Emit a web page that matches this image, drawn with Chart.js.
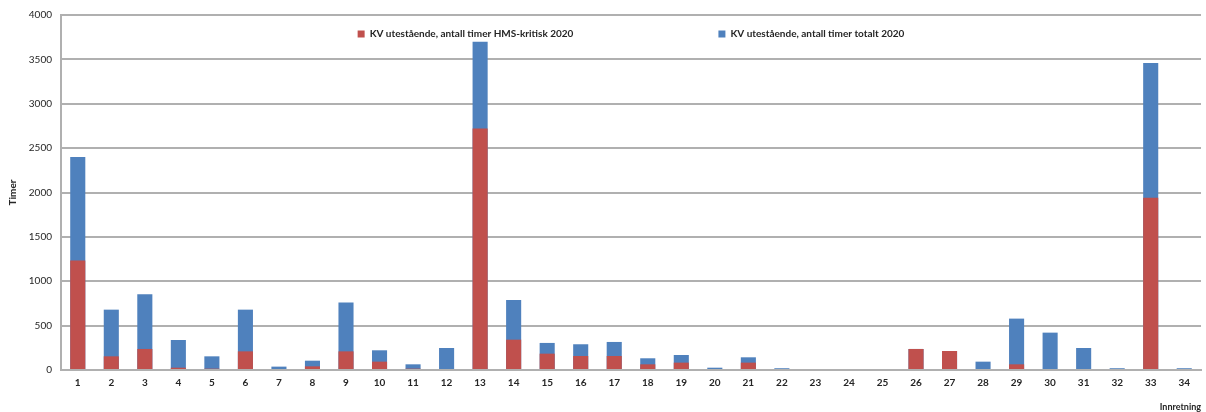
<!DOCTYPE html>
<html>
<head>
<meta charset="utf-8">
<title>KV utestående timer 2020</title>
<script src="https://cdn.jsdelivr.net/npm/chart.js@4/dist/chart.umd.min.js"></script>
<style>
  html, body { margin: 0; padding: 0; background: #ffffff; }
  #wrap { width: 1206px; height: 412px; }
</style>
</head>
<body>
<div id="wrap"><canvas id="chart" width="1206" height="412"></canvas></div>
<script>
// Innretning (facility) numbers along the x axis
const innretning = ['1','2','3','4','5','6','7','8','9','10','11','12','13','14','15','16','17',
                    '18','19','20','21','22','23','24','25','26','27','28','29','30','31','32','33','34'];

// Outstanding corrective maintenance hours, HMS-critical part
const hmsKritisk = [1235, 154, 237, 26, 15, 210, 0, 41, 210, 94, 15, 0, 2720, 342, 184, 158, 158,
                    64, 83, 0, 83, 0, 0, 0, 0, 237, 214, 0, 64, 0, 0, 0, 1940, 0];

// Outstanding corrective maintenance hours, total
const totalt = [2400, 680, 853, 338, 154, 680, 38, 105, 760, 222, 64, 248, 3700, 790, 305, 290, 316,
                132, 169, 26, 143, 20, 0, 0, 0, 237, 214, 94, 579, 421, 248, 20, 3460, 20];

// Value axis ticks
const yTicks = [0, 500, 1000, 1500, 2000, 2500, 3000, 3500, 4000];

const seriesNames = ['KV utestående, antall timer HMS-kritisk 2020', 'KV utestående, antall timer totalt 2020'];

const RED = '#C0504D';
const BLUE = '#4F81BD';
const GRID = '#b0b0b0';
const TEXT = '#262626';
const FONT = 'Lato, "Open Sans", "DejaVu Sans", sans-serif';

// The legend row is drawn inside the top band of the plot; let its clip box reach down to it.
const legendInPlot = {
  id: 'legendInPlot',
  afterLayout(chart) {
    const lg = chart.legend;
    if (lg) { lg.bottom = chart.chartArea.top + 40; }
  }
};

new Chart(document.getElementById('chart'), {
  type: 'bar',
  plugins: [legendInPlot],
  data: {
    labels: innretning,
    datasets: [
      {
        label: seriesNames[0],
        data: hmsKritisk,
        backgroundColor: RED,
        borderWidth: 0,
        barPercentage: 0.9,
        categoryPercentage: 0.5
      },
      {
        label: seriesNames[1],
        data: totalt,
        backgroundColor: BLUE,
        borderWidth: 0,
        barPercentage: 0.9,
        categoryPercentage: 0.5
      }
    ]
  },
  options: {
    responsive: false,
    animation: false,
    devicePixelRatio: 1,
    layout: {
      padding: { top: -117, right: 5, bottom: 0, left: 0 }
    },
    plugins: {
      tooltip: { enabled: false },
      legend: {
        position: 'top',
        align: 'center',
        fullSize: false,
        maxHeight: 131,
        labels: {
          boxWidth: 7,
          boxHeight: 7,
          padding: 145,
          color: TEXT,
          font: { family: FONT, size: 10, weight: 'bold' }
        }
      }
    },
    scales: {
      x: {
        stacked: true,
        offset: true,
        grid: { display: false, drawTicks: false },
        border: { display: true, color: GRID, width: 2 },
        ticks: {
          padding: 7,
          color: TEXT,
          maxRotation: 0,
          autoSkip: false,
          font: { family: FONT, size: 10, weight: 'bold' }
        },
        title: {
          display: true,
          text: 'Innretning',
          align: 'end',
          color: TEXT,
          padding: { top: 12, bottom: 0 },
          font: { family: FONT, size: 9, weight: 'bold' }
        },
        afterFit: (scale) => { scale.height = 42; }
      },
      y: {
        stacked: false,
        min: 0,
        max: 4000,
        afterBuildTicks: (scale) => { scale.ticks = yTicks.map(v => ({ value: v })); },
        grid: { color: GRID, lineWidth: 2, drawTicks: false },
        border: { display: true, color: GRID, width: 2 },
        ticks: {
          padding: 9,
          color: TEXT,
          callback: (v) => String(v),
          font: { family: FONT, size: 10 }
        },
        title: {
          display: true,
          text: 'Timer',
          color: TEXT,
          padding: { top: 7, bottom: 0 },
          font: { family: FONT, size: 10, weight: 'bold' }
        },
        afterFit: (scale) => { scale.width = 61; }
      }
    }
  }
});
</script>
</body>
</html>
